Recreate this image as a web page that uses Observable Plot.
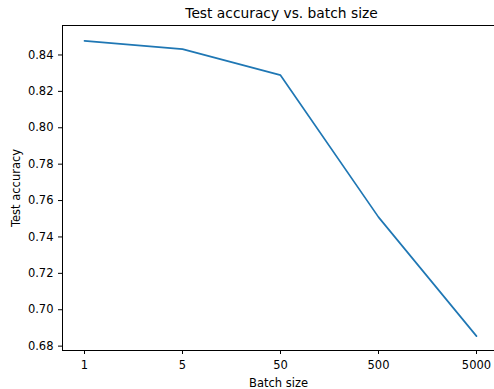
<!DOCTYPE html>
<html>
<head>
<meta charset="utf-8">
<script src="https://cdn.jsdelivr.net/npm/d3@7"></script>
<script src="https://cdn.jsdelivr.net/npm/@observablehq/plot@0.6"></script>
<style>
  html, body { margin: 0; padding: 0; background: #fff; }
  svg { display: block; font-family: "DejaVu Sans", sans-serif; }
</style>
</head>
<body>
<div id="chart"></div>
<script>
const batchSizes = ["1", "5", "50", "500", "5000"];
const accuracy = [0.8478, 0.8432, 0.8289, 0.7509, 0.6855];
const yTicks = [0.68, 0.70, 0.72, 0.74, 0.76, 0.78, 0.80, 0.82, 0.84];
const title = "Test accuracy vs. batch size";
const xLabel = "Batch size";
const yLabel = "Test accuracy";

const data = batchSizes.map((b, i) => ({batch: b, acc: accuracy[i]}));

const chart = Plot.plot({
  width: 494,
  height: 389,
  marginTop: 25,
  marginBottom: 39,
  marginLeft: 62,
  marginRight: 0,
  style: {fontFamily: "DejaVu Sans, sans-serif", fontSize: "11.5px", color: "#000", background: "#fff"},
  x: {type: "point", domain: batchSizes, range: [62.3, 497.8], padding: 0.2},
  y: {domain: [0.6776, 0.8562], range: [350, 25]},
  marks: [
    Plot.frame({anchor: "top", stroke: "#000", strokeOpacity: 1, strokeWidth: 1}),
    Plot.frame({anchor: "left", stroke: "#000", strokeOpacity: 1, strokeWidth: 1}),
    Plot.frame({anchor: "bottom", stroke: "#000", strokeOpacity: 1, strokeWidth: 1}),
    Plot.axisX({ticks: batchSizes, tickSize: 4, tickPadding: 6, fontSize: 11.5, label: xLabel, labelAnchor: "center", labelArrow: "none", labelOffset: 36, stroke: "#000"}),
    Plot.axisY({ticks: yTicks, tickSize: 4, tickPadding: 5, tickFormat: d3.format(".2f"), fontSize: 11.5, label: yLabel, labelAnchor: "center", labelArrow: "none", labelOffset: 51, stroke: "#000"}),
    Plot.line(data, {x: "batch", y: "acc", stroke: "#1f77b4", strokeWidth: 1.7}),
    Plot.text([title], {frameAnchor: "top", lineAnchor: "middle", dy: -11.5, dx: 3, fontSize: 13.8, fill: "#000"})
  ]
});
document.getElementById("chart").appendChild(chart);
</script>
</body>
</html>
